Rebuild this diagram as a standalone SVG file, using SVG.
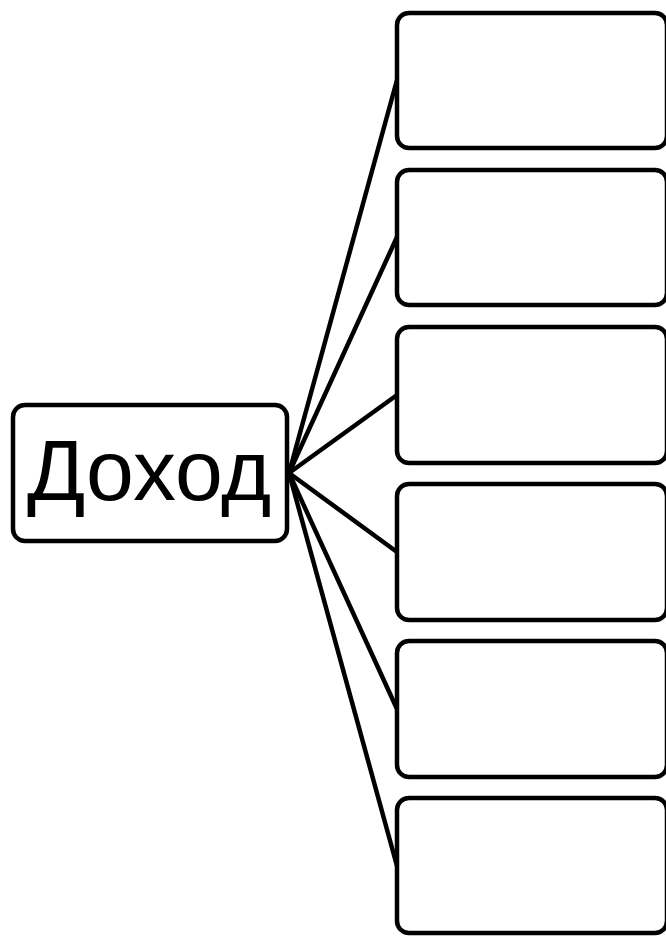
<svg xmlns="http://www.w3.org/2000/svg" width="666" height="936" viewBox="0 0 666 936">
<style>
.box{fill:#fff;stroke:#000;stroke-width:4.5}
.conn{stroke:#000;stroke-width:4.5;fill:none;stroke-linecap:round}
.lbl{font-family:"Liberation Sans",Arial,sans-serif;font-size:86px;fill:#000;text-anchor:middle}
</style>
<rect width="666" height="936" fill="#fff"/>
<g id="connectors">
<line class="conn" x1="289" y1="473" x2="397" y2="80"/>
<line class="conn" x1="289" y1="473" x2="397" y2="237"/>
<line class="conn" x1="289" y1="473" x2="397" y2="395"/>
<line class="conn" x1="289" y1="473" x2="397" y2="552"/>
<line class="conn" x1="289" y1="473" x2="397" y2="709"/>
<line class="conn" x1="289" y1="473" x2="397" y2="866"/>
</g>
<g id="root">
<rect class="box" x="13" y="405" width="274" height="136" rx="12"/>
<text class="lbl" x="149" y="500">Доход</text>
</g>
<g id="n1"><rect class="box" x="397" y="13" width="270" height="135" rx="12"/></g>
<g id="n2"><rect class="box" x="397" y="170" width="270" height="135" rx="12"/></g>
<g id="n3"><rect class="box" x="397" y="327" width="270" height="136" rx="12"/></g>
<g id="n4"><rect class="box" x="397" y="484" width="270" height="136" rx="12"/></g>
<g id="n5"><rect class="box" x="397" y="641" width="270" height="136" rx="12"/></g>
<g id="n6"><rect class="box" x="397" y="798" width="270" height="135" rx="12"/></g>
</svg>
